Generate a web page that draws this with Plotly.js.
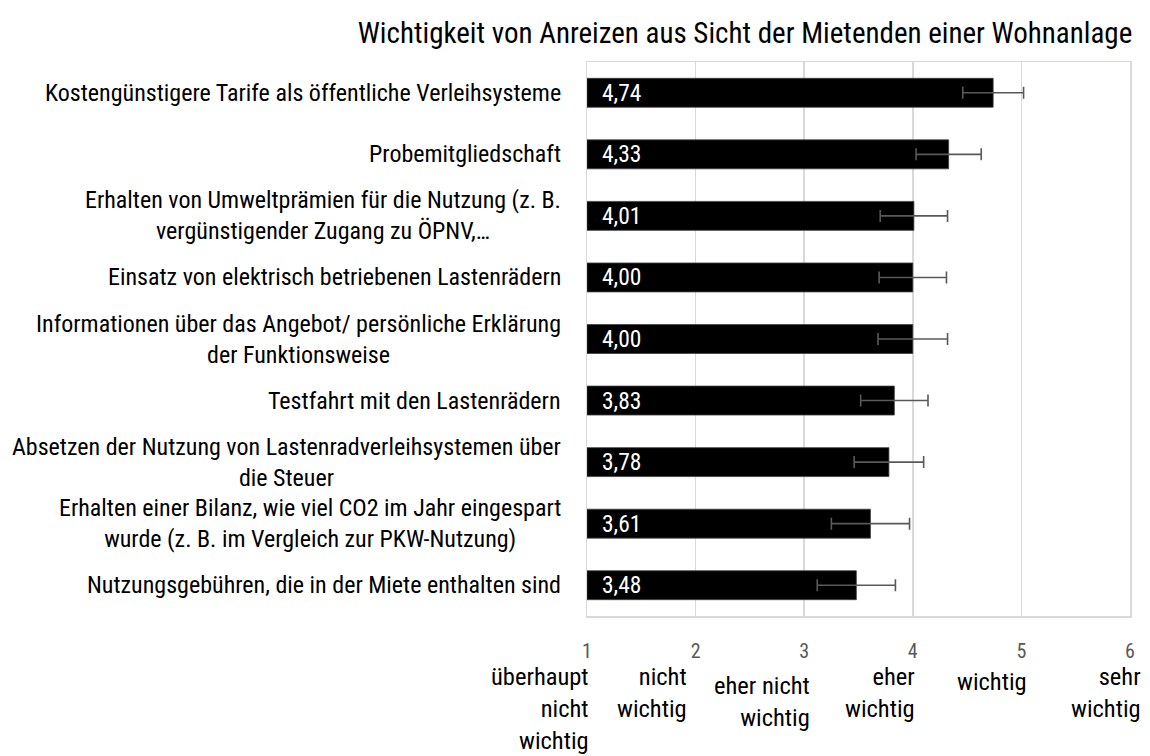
<!DOCTYPE html>
<html>
<head>
<meta charset="utf-8">
<script src="https://cdn.plot.ly/plotly-3.0.1.min.js"></script>
<style>
  html, body { margin: 0; padding: 0; background: #ffffff; }
  #chart { width: 1150px; height: 756px; }
</style>
</head>
<body>
<div id="chart"></div>
<script>
// ---- data ----
const titleText = "Wichtigkeit von Anreizen aus Sicht der Mietenden einer Wohnanlage";
const categories = [
  "Kostengünstigere Tarife als öffentliche Verleihsysteme",
  "Probemitgliedschaft",
  "Erhalten von Umweltprämien für die Nutzung (z. B.<br>vergünstigender Zugang zu ÖPNV,…",
  "Einsatz von elektrisch betriebenen Lastenrädern",
  "Informationen über das Angebot/ persönliche Erklärung<br>der Funktionsweise",
  "Testfahrt mit den Lastenrädern",
  "Absetzen der Nutzung von Lastenradverleihsystemen über<br>die Steuer",
  "Erhalten einer Bilanz, wie viel CO2 im Jahr eingespart<br>wurde (z. B. im Vergleich zur PKW-Nutzung)",
  "Nutzungsgebühren, die in der Miete enthalten sind"
];
const means = [4.74, 4.33, 4.01, 4.00, 4.00, 3.83, 3.78, 3.61, 3.48];
const errors = [0.28, 0.30, 0.31, 0.31, 0.32, 0.31, 0.32, 0.36, 0.36];
const tickValues = [1, 2, 3, 4, 5, 6];
const scaleLabels = [
  "überhaupt<br>nicht<br>wichtig",
  "nicht<br>wichtig",
  "eher nicht<br>wichtig",
  "eher<br>wichtig",
  "wichtig",
  "sehr<br>wichtig"
];
const axisMin = 1;

// ---- styling ----
const FONT = "'Roboto Condensed', Roboto, sans-serif";
const scaleLabelXShift = [4, -7, 8, 4, 8, 13];
const scaleLabelYShift = [0, 0, -9, 0, -5, 0];

const catIdx = categories.map((_, i) => i);

const barTrace = {
  type: "bar",
  orientation: "h",
  y: catIdx,
  x: means.map(v => v - axisMin),
  base: means.map(() => axisMin),
  width: 0.47,
  marker: { color: "#000000", line: { color: "#404040", width: 0.8 } },
  error_x: {
    type: "data",
    array: errors,
    visible: true,
    color: "#595959",
    thickness: 1.6,
    width: 6
  },
  hoverinfo: "skip",
  showlegend: false
};

const annotations = [];
// category labels (lines centred, block right-aligned)
categories.forEach((c, i) => {
  annotations.push({
    xref: "paper", yref: "y", x: 0, y: i,
    xanchor: "right", yanchor: "middle", xshift: -24,
    align: "center", showarrow: false,
    text: c,
    font: { family: FONT, size: 24, color: "#000000" }
  });
});
// value labels inside bars
means.forEach((v, i) => {
  annotations.push({
    xref: "x", yref: "y", x: axisMin, y: i,
    xanchor: "left", yanchor: "middle", xshift: 13,
    showarrow: false,
    text: v.toFixed(2).replace(".", ","),
    font: { family: FONT, size: 23.5, color: "#ffffff" }
  });
});
// scale labels under tick numbers
tickValues.forEach((t, i) => {
  annotations.push({
    xref: "x", yref: "paper", x: t, y: 0,
    xanchor: "right", yanchor: "top",
    xshift: scaleLabelXShift[i], yshift: -44 + scaleLabelYShift[i],
    align: "right", showarrow: false,
    text: scaleLabels[i],
    font: { family: FONT, size: 24.5, color: "#000000" }
  });
});

const layout = {
  width: 1150, height: 756,
  margin: { l: 586.5, r: 19.5, t: 62, b: 140, pad: 0 },
  paper_bgcolor: "#ffffff",
  plot_bgcolor: "#ffffff",
  separators: ",.",
  title: {
    text: titleText,
    xref: "container", yref: "container",
    x: 745 / 1150, y: 1 - 33 / 756,
    xanchor: "center", yanchor: "middle",
    font: { family: FONT, size: 29, color: "#000000" }
  },
  xaxis: {
    range: [1, 6],
    tickvals: tickValues,
    ticktext: tickValues.map(String),
    showgrid: true, gridcolor: "#d9d9d9", gridwidth: 1.5,
    zeroline: false,
    showline: true, linecolor: "#d9d9d9", linewidth: 1.5, mirror: true,
    ticks: "", ticklabelstandoff: 16,
    tickfont: { family: FONT, size: 20, color: "#595959" },
    fixedrange: true
  },
  yaxis: {
    range: [8.5, -0.5],
    showticklabels: false,
    showgrid: false, zeroline: false,
    showline: true, linecolor: "#d9d9d9", linewidth: 1.5, mirror: true,
    ticks: "",
    fixedrange: true
  },
  annotations: annotations,
  showlegend: false
};

Plotly.newPlot("chart", [barTrace], layout, { displayModeBar: false, staticPlot: true });
</script>
</body>
</html>
